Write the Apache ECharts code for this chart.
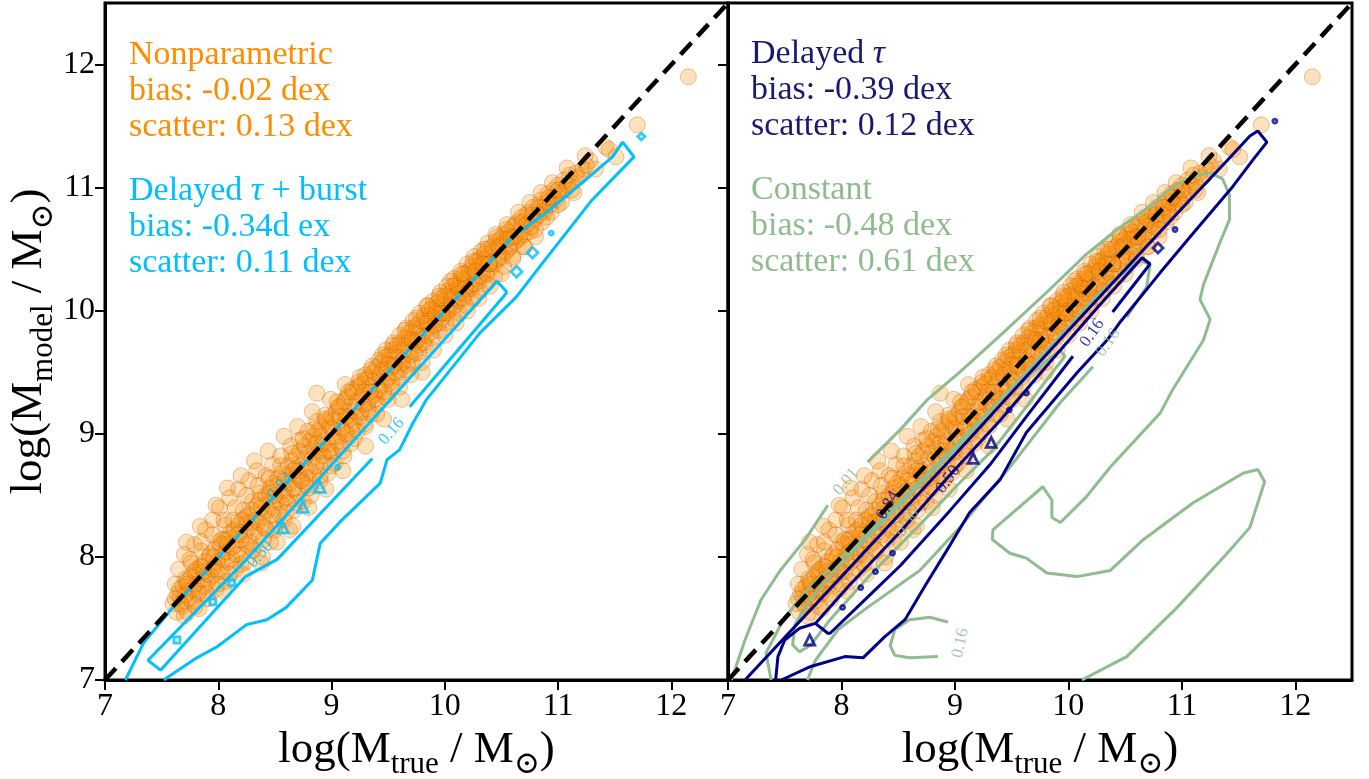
<!DOCTYPE html>
<html><head><meta charset="utf-8">
<script src="https://cdn.jsdelivr.net/npm/echarts@6/dist/echarts.min.js"></script>
<style>html,body{margin:0;padding:0;background:#fff}#c{width:1369px;height:779px}</style>
</head><body><div id="c"></div>
<script>
// ---------------- data ----------------
const xTicks = [7, 8, 9, 10, 11, 12];
const yTicks = [7, 8, 9, 10, 11, 12];
const oneToOne = [[7, 7], [12.5, 12.5]];

// Nonparametric model: true vs model stellar mass (same galaxies in both panels)
const nonparamWide = [
[7.60,7.62],[7.62,7.78],[7.63,7.55],[7.65,7.90],[7.66,7.68],[7.68,7.60],[7.70,8.02],[7.71,7.82],[7.73,7.55],[7.74,7.72],
[7.76,7.95],[7.77,7.64],[7.79,8.10],[7.80,7.85],[7.82,7.70],[7.83,7.58],[7.85,8.05],[7.86,7.92],[7.88,7.76],[7.89,8.22],
[7.91,7.66],[7.92,8.00],[7.94,7.84],[7.95,8.30],[7.97,7.92],[7.98,7.74],[8.00,8.12],[8.01,8.40],[8.03,7.88],[8.04,8.02],
[8.06,8.26],[8.07,7.80],[8.09,8.15],[8.10,8.48],[8.12,7.98],[8.13,8.30],[8.15,7.90],[8.16,8.10],[8.18,8.55],[8.19,8.20],
[8.21,8.02],[8.22,8.38],[8.24,7.96],[8.25,8.28],[8.27,8.62],[8.28,8.12],[8.30,8.45],[8.31,8.05],[8.33,8.30],[8.34,8.70],
[8.36,8.18],[8.37,8.52],[8.39,8.00],[8.40,8.36],[8.42,8.66],[8.43,8.22],[8.45,8.48],[8.46,8.12],[8.48,8.75],[8.49,8.40],
[8.51,8.26],[8.52,8.58],[8.54,8.35],[8.55,8.82],[8.57,8.50],[8.58,8.30],[8.60,8.66],[8.61,8.44],[8.63,8.22],[8.64,8.90],
[8.66,8.55],[8.67,8.38],[8.69,8.72],[8.70,8.52],[8.72,8.95],[8.73,8.62],[8.75,8.45],[8.76,8.80],[8.78,8.58],[8.79,9.02],
[8.81,8.70],[8.82,8.50],[8.84,8.88],[8.85,8.66],[8.87,9.10],[8.88,8.80],[8.90,8.62],[8.91,8.98],[8.93,8.76],[8.94,9.15],
[8.96,8.86],[8.97,8.68],[8.99,9.05],[8.87,9.33],[9.00,8.85],[9.02,9.12],[9.03,8.76],[9.05,8.98],[9.06,9.22],[9.08,8.90],
[9.09,9.05],[9.11,8.82],[9.12,9.28],[9.14,9.00],[9.15,9.14],[9.17,8.92],[9.18,9.36],[9.20,9.10],[9.21,9.22],[9.23,9.02],
[9.24,9.42],[9.26,9.18],[9.27,9.30],[9.29,9.08],[9.30,9.48],[9.32,9.25],[9.33,9.38],[9.35,9.16],[9.36,9.55],[9.38,9.32],
[9.39,9.45],[9.41,9.24],[9.42,9.60],[9.44,9.40],[9.45,9.52],[9.47,9.30],[9.48,9.68],[9.50,9.46],[9.51,9.60],[9.53,9.38],
[9.54,9.72],[9.56,9.55],[9.57,9.66],[9.59,9.46],[9.60,9.80],[9.62,9.60],[9.63,9.72],[9.65,9.52],[9.66,9.86],[9.68,9.66],
[9.69,9.78],[9.71,9.58],[9.72,9.92],[9.74,9.74],[9.75,9.85],[9.77,9.66],[9.78,9.98],[9.80,9.80],[9.81,9.90],[9.83,9.72],
[9.84,10.04],[9.86,9.86],[9.87,9.96],[9.89,9.78],[9.90,10.08],[9.92,9.92],[9.93,10.02],[9.95,9.84],[9.96,10.15],[9.98,9.98],
[9.99,10.08],[10.01,9.90],[10.02,10.20],[10.04,10.04],[10.05,10.14],[10.07,9.94],[10.08,10.26],[10.10,10.10],[10.11,10.20],[10.13,9.98],
[10.14,10.32],[10.16,10.14],[10.17,10.25],[10.19,10.04],[10.20,10.38],[10.22,10.20],[10.23,10.30],[10.25,10.10],[10.26,10.44],[10.28,10.26],
[10.29,10.36],[10.31,10.16],[10.32,10.48],[10.34,10.32],[10.35,10.42],[10.37,10.22],[10.38,10.55],[10.40,10.38],[10.42,10.48],[10.44,10.28],
[10.46,10.60],[10.48,10.44],[10.50,10.54],[10.52,10.36],[10.54,10.66],[10.56,10.50],[10.58,10.60],[10.60,10.44],[10.62,10.70],[10.65,10.58],
[10.67,10.66],[10.70,10.52],[10.72,10.78],[10.75,10.64],[10.78,10.74],[10.80,10.60],[10.83,10.86],[10.86,10.72],[10.88,10.82],[10.91,10.95],
[10.94,10.80],[10.97,10.92],[11.00,11.02],[11.03,10.88],[11.06,10.98],[11.10,11.10],[11.14,10.96],[11.18,11.08],[11.22,11.15],[11.28,11.22],
[11.33,11.15],[11.42,11.33],[11.45,11.31],[11.51,11.25],[11.70,11.51],[12.15,11.90],
[7.72,8.12],[7.84,8.25],[7.98,8.42],[8.08,8.56],[8.20,8.66],[8.32,8.78],[8.44,8.86],[8.58,8.98],[8.70,9.06],[8.83,9.18],
[8.99,9.28],[9.12,9.40],[8.05,7.72],[8.22,7.86],[8.38,7.95],[8.52,8.12],[8.66,8.25],[8.80,8.40],[8.95,8.55],[9.10,8.70],
[9.30,8.90],[9.46,9.12],[9.62,9.28],[9.80,9.50]
];
const nonparamCore = [
[7.62,7.66],[7.64,7.70],[7.66,7.74],[7.67,7.62],[7.69,7.76],[7.71,7.69],[7.72,7.80],[7.74,7.66],[7.76,7.84],[7.78,7.74],
[7.79,7.88],[7.81,7.78],[7.83,7.72],[7.84,7.92],[7.86,7.82],[7.88,7.96],[7.90,7.86],[7.91,7.80],[7.93,8.02],[7.95,7.90],
[7.97,8.06],[7.99,7.96],[8.00,7.88],[8.02,8.10],[8.04,7.98],[8.06,8.14],[8.07,8.04],[8.09,7.96],[8.11,8.20],[8.13,8.08],
[8.14,8.22],[8.16,8.02],[8.18,8.26],[8.20,8.14],[8.21,8.30],[8.23,8.18],[8.25,8.10],[8.27,8.34],[8.28,8.24],[8.30,8.38],
[8.32,8.20],[8.34,8.42],[8.35,8.28],[8.37,8.46],[8.39,8.32],[8.41,8.24],[8.42,8.50],[8.44,8.38],[8.46,8.56],[8.48,8.34],
[8.49,8.60],[8.51,8.46],[8.53,8.64],[8.55,8.44],[8.56,8.68],[8.58,8.54],[8.60,8.48],[8.62,8.74],[8.63,8.60],[8.65,8.78],
[8.67,8.56],[8.69,8.82],[8.70,8.66],[8.72,8.86],[8.74,8.62],[8.76,8.90],[8.77,8.72],[8.79,8.64],[8.81,8.94],[8.83,8.80],
[8.84,8.98],[8.86,8.74],[8.88,9.02],[8.90,8.86],[8.91,9.06],[8.93,8.82],[8.95,9.10],[8.97,8.92],[8.98,8.86],[9.00,9.14],
[9.02,8.98],[9.04,9.18],[9.05,8.94],[9.07,9.22],[9.09,9.04],[9.11,9.26],[9.12,9.00],[9.14,9.30],[9.16,9.12],[9.18,9.06],
[9.19,9.34],[9.21,9.18],[9.23,9.38],[9.25,9.14],[9.26,9.40],[9.28,9.24],[9.30,9.44],[9.32,9.20],[9.33,9.46],[9.35,9.30],
[9.37,9.50],[9.39,9.28],[9.40,9.54],[9.42,9.36],[9.44,9.58],[9.46,9.34],[9.47,9.62],[9.49,9.44],[9.51,9.64],[9.53,9.42],
[9.54,9.68],[9.56,9.50],[9.58,9.72],[9.60,9.52],[9.61,9.74],[9.63,9.58],[9.65,9.78],[9.67,9.56],[9.68,9.82],[9.70,9.64],
[9.72,9.86],[9.74,9.66],[9.75,9.88],[9.77,9.72],[9.79,9.92],[9.81,9.74],[9.82,9.96],[9.84,9.80],[9.86,10.00],[9.88,9.82],
[9.89,10.02],[9.91,9.88],[9.93,10.06],[9.95,9.90],[9.96,10.10],[9.98,9.94],[10.00,10.12],[10.02,9.98],[10.03,10.16],[10.05,10.02],
[10.07,10.20],[10.09,10.04],[10.10,10.22],[10.12,10.08],[10.14,10.26],[10.16,10.10],[10.17,10.30],[10.19,10.14],[10.21,10.32],[10.23,10.18],
[10.24,10.36],[10.26,10.22],[10.28,10.40],[10.30,10.24],[10.31,10.42],[10.33,10.28],[10.35,10.46],[10.37,10.30],[10.38,10.50],[10.40,10.34],
[10.42,10.52],[10.44,10.38],[10.45,10.56],[10.47,10.42],[10.49,10.58],[10.51,10.44],[10.52,10.62],[10.54,10.48],[10.56,10.64],[10.58,10.52],
[10.60,10.68],[10.62,10.56],[10.64,10.72],[10.66,10.60],[10.68,10.76],[10.70,10.62],[10.72,10.70],[10.74,10.80],[10.76,10.68],[10.78,10.84],
[10.80,10.74],[10.83,10.78],[10.85,10.90],[10.88,10.80],[10.90,10.88],[10.93,10.86],[10.96,10.98],[10.98,10.90],[11.02,10.96],[11.05,11.06],
[11.08,11.02],[11.12,11.04],[11.16,11.12],[11.20,11.10],[11.25,11.18]
];
const nonparamSpread = [
[7.70,7.52],[7.75,7.98],[7.80,7.60],[7.85,8.12],[7.90,7.70],[7.95,8.18],[8.00,7.78],[8.05,8.30],[8.10,7.86],[8.15,8.40],
[8.20,7.94],[8.25,8.50],[8.30,8.06],[8.35,8.58],[8.40,8.14],[8.45,8.64],[8.50,8.22],[8.55,8.74],[8.60,8.36],[8.65,8.84],
[8.70,8.44],[8.75,8.96],[8.80,8.56],[8.85,9.04],[8.90,8.66],[8.95,9.12],[9.00,8.74],[9.05,9.26],[9.10,8.86],[9.15,9.34],
[9.20,8.96],[9.25,9.46],[9.30,9.06],[9.35,9.52],[9.40,9.16],[9.45,9.64],[9.50,9.28],[9.55,9.74],[9.60,9.38],[9.65,9.84],
[9.70,9.48],[9.75,9.94],[9.80,9.58],[9.85,10.04],[9.90,9.68],[9.95,10.12],[10.00,9.80],[10.05,10.24],[10.10,9.90],[10.15,10.30],
[10.20,10.00],[10.25,10.40],[10.30,10.10],[10.35,10.50],[10.40,10.20],[10.45,10.62],[10.50,10.30],[10.55,10.70],[10.60,10.42],[10.65,10.80],
[10.70,10.52],[10.75,10.88],[10.80,10.66],[10.85,10.96],[10.90,10.76],[10.95,11.04],[11.00,10.86],[11.08,11.16],[11.12,10.98],[11.24,11.26],
[7.73,7.78],[7.81,7.90],[7.87,7.88],[7.96,8.00],[8.03,8.14],[8.08,8.10],[8.17,8.18],[8.24,8.32],[8.29,8.28],[8.38,8.40],
[8.45,8.52],[8.50,8.50],[8.59,8.62],[8.66,8.70],[8.71,8.70],[8.80,8.84],[8.87,8.92],[8.92,8.92],[9.01,9.04],[9.08,9.14],
[9.13,9.14],[9.22,9.26],[9.29,9.34],[9.34,9.34],[9.43,9.48],[9.50,9.56],[9.55,9.56],[9.64,9.68],[9.71,9.76],[9.76,9.76],
[9.85,9.90],[9.92,9.98],[9.97,9.98],[10.06,10.10],[10.13,10.18],[10.18,10.18],[10.27,10.32],[10.34,10.38],[10.39,10.38],[10.48,10.52],
[10.55,10.58],[10.61,10.60],[10.69,10.72],[10.77,10.78],[10.84,10.84],[10.92,10.92],[11.00,10.98]
];
const nonparamPoints = nonparamWide.concat(nonparamCore, nonparamSpread);

// Delayed tau + burst contours (left panel)
const burstOuter = [[7.18,7.0],[7.34,7.30],[7.60,7.59],[8.5,8.5],[10.0,10.0],[10.6,10.6],[10.90,10.80],[11.25,11.07],[11.48,11.25],[11.57,11.37],
[11.67,11.25],[11.30,10.90],[11.07,10.63],[10.84,10.36],[10.63,10.11],[10.31,9.82],[9.84,9.28],[9.72,9.09],[9.60,8.87],[9.49,8.79],
[9.43,8.60],[9.07,8.28],[8.90,8.11],[8.87,7.98],[8.83,7.81],[8.60,7.59],[8.43,7.49],[8.25,7.45],[7.99,7.27],[7.81,7.18],[7.55,7.02],[7.52,7.0]];
const burst16a = [[10.55,10.15],[10.46,10.24],[8.25,7.98],[7.38,7.16],[7.49,7.08],[8.24,7.84],[8.52,7.98],[9.36,8.80]];
const burst16b = [[9.69,9.22],[10.55,10.15]];
const burstSquares = [[7.635,7.325],[7.952,7.634],[8.12,7.79]];
const burstTriangles = [[8.57,8.24],[8.746,8.407],[8.896,8.569]];
const burstDots = [[9.055,8.73],[10.94,10.63]];
const burstDiamonds = [[10.633,10.317],[10.774,10.472]];
const burstSmallDiamonds = [[11.735,11.415]];
const burstLabels = [[9.53,9.02,'0.16'],[8.37,8.02,'0.50'],[8.55,8.57,'0.84']];

// Delayed tau contours (right panel)
const delayedOuter = [[7.15,7.0],[8.0,7.84],[9.0,8.83],[10.0,9.84],[11.0,10.83],[11.4,11.22],[11.6,11.42],[11.67,11.46],[11.75,11.37],[11.63,11.23],
[11.45,11.01],[11.10,10.63],[10.81,10.31],[10.45,9.90],[10.34,9.76],[10.08,9.50],[9.63,9.01],[9.40,8.63],[9.13,8.36],[8.96,8.10],
[8.74,7.77],[8.56,7.49],[8.38,7.35],[8.19,7.18],[8.03,7.19],[7.73,7.11],[7.47,7.0]];
const delayed16 = [[10.04,9.63],[9.63,9.14],[9.31,8.75],[8.96,8.38],[8.52,7.93],[8.16,7.61],[7.90,7.38],[7.88,7.38],[7.77,7.46],[8.07,7.77],
[8.515,8.20],[8.96,8.67],[9.40,9.11],[9.84,9.585],[10.28,10.05],[10.65,10.43],[10.72,10.38],[10.39,9.99]];
const delayedInner = [[7.42,7.0],[7.44,7.19],[7.50,7.325],[7.63,7.42],[7.77,7.46]];
const delayedTriangles = [[7.72,7.325],[9.16,8.80],[9.32,8.93]];
const delayedDots = [[8.01,7.59],[8.17,7.75],[8.30,7.88],[8.45,8.03],[9.48,9.195],[9.63,9.33],[10.94,10.66],[11.82,11.54]];
const delayedDiamonds = [[10.79,10.51]];
const delayedLabels = [[10.21,9.82,'0.16'],[8.94,8.63,'0.50'],[8.41,8.42,'0.84']];

// Constant SFH contours (right panel)
const constOuterA = [[7.03,7.0],[7.15,7.325],[7.29,7.65],[7.46,7.89],[7.68,8.14],[7.88,8.42]];
const constOuterB = [[8.23,8.77],[8.515,9.03],[8.76,9.28],[9.04,9.50],[9.40,9.80],[9.81,10.15],[10.16,10.46],[10.43,10.66],[10.72,10.85],[10.92,11.01],
[11.10,11.09],[11.25,11.12],[11.36,11.07],[11.42,10.94],[11.42,10.74],[11.33,10.54],[11.19,10.21],[11.16,10.09],[11.25,9.93],[11.19,9.76],
[10.92,9.36],[10.81,9.17],[10.37,8.73],[10.16,8.49],[9.93,8.28],[9.855,8.32],[9.855,8.46],[9.775,8.57],[9.335,8.22],[9.33,8.14],
[9.485,8.03],[9.63,7.99],[9.81,7.87],[10.075,7.84],[10.37,7.89],[10.66,8.14],[11.10,8.44],[11.54,8.68],[11.67,8.71],[11.73,8.61],
[11.60,8.24],[11.40,8.03],[10.96,7.59],[10.515,7.19],[10.16,7.02],[10.12,7.0]];
const const16a = [[7.38,7.0],[7.335,7.22],[7.50,7.51],[7.73,7.76],[8.233,8.195],[8.60,8.53],[9.0,8.90],[9.40,9.28],[9.925,9.79],[10.28,10.15],
[10.45,10.28],[10.63,10.415],[10.72,10.37],[10.69,10.195],[10.515,9.95]];
const const16b = [[10.216,9.545],[9.925,9.25],[9.485,8.73],[9.044,8.24],[8.69,7.89],[8.23,7.59],[7.97,7.41],[7.77,7.16],[7.70,7.0]];
const const50 = [[9.925,9.68],[9.66,9.48],[9.22,9.07],[8.78,8.67],[8.34,8.26],[7.99,7.935],[7.72,7.65],[7.59,7.45],[7.57,7.285],[7.63,7.23],
[7.73,7.285],[7.90,7.49],[8.25,7.85],[8.69,8.26],[9.04,8.60],[9.335,8.87],[9.63,9.22],[9.81,9.44],[9.97,9.63],[9.925,9.68]];
const constArc = [[8.94,7.47],[8.78,7.51],[8.60,7.49],[8.47,7.41],[8.43,7.28],[8.47,7.20],[8.60,7.18],[8.85,7.19]];
const constLabels = [[8.04,8.61,'0.01'],[10.35,9.74,'0.16'],[9.05,7.30,'0.16'],[8.58,8.28,'0.50']];

// ---------------- styling / building ----------------
const SERIF = "'Liberation Serif','Times New Roman','DejaVu Serif',serif";
const ORANGE = '#FF8C00', CYAN = '#00BFFF', NAVY_T = '#191970', NAVY = '#00008B', GREEN = '#8FBC8F';

function lineS(data, color, gi, z) {
  return {type:'line', xAxisIndex:gi, yAxisIndex:gi, data:data, symbol:'none', silent:true,
    lineStyle:{color:color, width:3}, z:z || 3};
}
function islandS(data, symbol, size, color, gi) {
  return {type:'scatter', xAxisIndex:gi, yAxisIndex:gi, data:data, symbol:symbol, symbolSize:size, silent:true,
    itemStyle:{color:'rgba(0,0,0,0)', borderColor:color, borderWidth:2.8}, z:3};
}
function labelS(labels, angles, color, gi) {
  return {type:'scatter', xAxisIndex:gi, yAxisIndex:gi, symbolSize:1, silent:true,
    itemStyle:{color:'rgba(0,0,0,0)'},
    data: labels.map((l, i) => ({value:[l[0], l[1]], label:{formatter:l[2], rotate:angles[i]}})),
    label:{show:true, position:'inside', color:color, fontFamily:SERIF, fontSize:17}, z:4};
}
function pointsS(gi) {
  return {type:'scatter', xAxisIndex:gi, yAxisIndex:gi, data:nonparamPoints, symbolSize:16, silent:true,
    itemStyle:{color:'rgba(255,140,0,0.32)', borderColor:'rgba(190,100,0,0.45)', borderWidth:1}, z:2};
}

const richName = {
  a:{fontFamily:SERIF, fontSize:45, color:'#000', lineHeight:60, verticalAlign:'middle'},
  s:{fontFamily:SERIF, fontSize:31, color:'#000', lineHeight:31, verticalAlign:'bottom'}
};
function xAxisCfg(gi) {
  return {type:'value', gridIndex:gi, min:7, max:12.5, interval:1,
    axisLine:{show:true, onZero:false, lineStyle:{color:'#000', width:3}},
    axisTick:{show:true, length:10, lineStyle:{color:'#000', width:2}, customValues:xTicks},
    axisLabel:{show:true, customValues:xTicks, color:'#000', fontFamily:SERIF, fontSize:32, margin:11},
    splitLine:{show:false},
    name:'{a|log(M}{s|true}{a| / M}{s|⊙}{a|)}', nameLocation:'middle', nameGap:29,
    nameTextStyle:{rich:richName}};
}
function yAxisCfg(gi, withLabels) {
  const c = {type:'value', gridIndex:gi, min:7, max:12.5, interval:1,
    axisLine:{show:true, onZero:false, lineStyle:{color:'#000', width:3}},
    axisTick:{show:true, length:10, lineStyle:{color:'#000', width:2}, customValues:yTicks},
    axisLabel:{show:withLabels, customValues:yTicks, color:'#000', fontFamily:SERIF, fontSize:32, margin:10},
    splitLine:{show:false}};
  if (withLabels) {
    c.name = '{a|log(M}{s|model}{a| / M}{s|⊙}{a|)}';
    c.nameLocation = 'middle'; c.nameRotate = 90; c.nameGap = 44;
    c.nameTextStyle = {rich:richName};
  }
  return c;
}

function textBlock(left, top, lines, color) {
  const tok = {fontFamily:SERIF, fontSize:34, lineHeight:36, fill:color};
  const itok = Object.assign({}, tok, {fontStyle:'italic'});
  return {type:'text', left:left, top:top, silent:true,
    style:{text:lines.join('\n'), rich:{n:tok, i:itok}, fill:color, font:'34px ' + SERIF, lineHeight:36}};
}

const chart = echarts.init(document.getElementById('c'), null, {renderer:'canvas'});
chart.setOption({
  animation:false,
  backgroundColor:'#fff',
  grid:[
    {left:105, top:3, width:623, height:677, show:true, borderColor:'#000', borderWidth:3, containLabel:false, outerBoundsMode:'none'},
    {left:728, top:3, width:624, height:677, show:true, borderColor:'#000', borderWidth:3, containLabel:false, outerBoundsMode:'none'}
  ],
  xAxis:[xAxisCfg(0), xAxisCfg(1)],
  yAxis:[yAxisCfg(0, true), yAxisCfg(1, false)],
  graphic:[
    textBlock(129, 37, ['{n|Nonparametric}', '{n|bias: -0.02 dex}', '{n|scatter: 0.13 dex}'], ORANGE),
    textBlock(129, 173, ['{n|Delayed }{i|τ}{n| + burst}', '{n|bias: -0.34d ex}', '{n|scatter: 0.11 dex}'], CYAN),
    textBlock(751, 36, ['{n|Delayed }{i|τ}', '{n|bias: -0.39 dex}', '{n|scatter: 0.12 dex}'], NAVY_T),
    textBlock(751, 172, ['{n|Constant}', '{n|bias: -0.48 dex}', '{n|scatter: 0.61 dex}'], GREEN)
  ],
  series:[
    pointsS(0), pointsS(1),
    lineS(burstOuter, CYAN, 0), lineS(burst16a, CYAN, 0), lineS(burst16b, CYAN, 0),
    islandS(burstSquares, 'rect', 6, CYAN, 0),
    islandS(burstTriangles, 'triangle', 11, CYAN, 0),
    islandS(burstDots, 'circle', 4, CYAN, 0),
    islandS(burstDiamonds, 'diamond', 11, CYAN, 0),
    islandS(burstSmallDiamonds, 'diamond', 7, CYAN, 0),
    labelS(burstLabels, [49, 49, 49], CYAN, 0),
    lineS(constOuterA, GREEN, 1), lineS(constOuterB, GREEN, 1),
    lineS(const16a, GREEN, 1), lineS(const16b, GREEN, 1),
    lineS(const50, GREEN, 1), lineS(constArc, GREEN, 1),
    labelS(constLabels, [50, 55, 78, 55], GREEN, 1),
    lineS(delayedOuter, NAVY, 1, 3.5), lineS(delayed16, NAVY, 1, 3.5), lineS(delayedInner, NAVY, 1, 3.5),
    islandS(delayedTriangles, 'triangle', 10, NAVY, 1),
    islandS(delayedDots, 'circle', 4, NAVY, 1),
    islandS(delayedDiamonds, 'diamond', 10, NAVY, 1),
    labelS(delayedLabels, [55, 55, 60], NAVY, 1),
    {type:'line', xAxisIndex:0, yAxisIndex:0, data:oneToOne, symbol:'none', silent:true,
     lineStyle:{color:'#000', width:4.5, type:[16, 9]}, z:6},
    {type:'line', xAxisIndex:1, yAxisIndex:1, data:oneToOne, symbol:'none', silent:true,
     lineStyle:{color:'#000', width:4.5, type:[16, 9]}, z:6}
  ]
});
</script></body></html>
